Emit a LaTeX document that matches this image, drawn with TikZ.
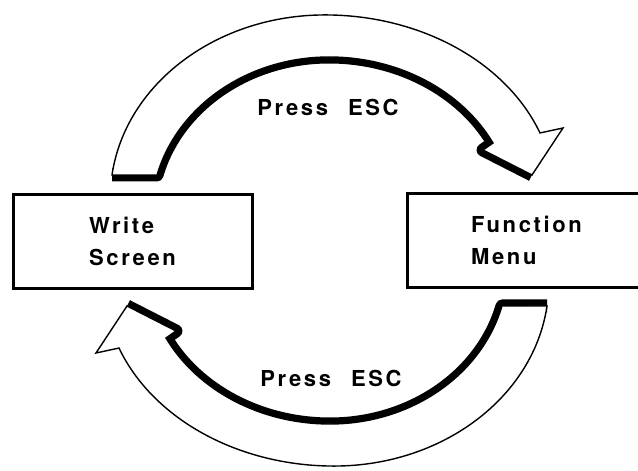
\documentclass[tikz,border=0pt]{standalone}
\usepackage{fontspec}
\newfontfamily\labelfont{TeX Gyre Heros}[LetterSpace=12]
\tikzset{
  boxnode/.style={draw, line width=3pt, minimum width=239pt, minimum height=94pt,
    align=left, inner sep=0pt, font=\labelfont\bfseries\fontsize{22}{32}\selectfont},
  presslabel/.style={inner sep=0pt, font=\labelfont\bfseries\fontsize{22}{26}\selectfont},
  arrowbody/.style={draw, fill=white, line width=1.4pt, line join=miter},
  arrowshadow/.style={draw, line width=13pt, line join=round},
  % curved block arrow with a heavy shadow along its inner edge
  escarrow/.pic={
    \draw[arrowshadow] (112,296) -- (157,296)
      arc[start angle=165.33, end angle=90, x radius=177.8pt, y radius=158pt]
      arc[start angle=90, end angle=27.11, x radius=184.2pt, y radius=158pt]
      -- (483,321) -- (532,296);
    \draw[arrowbody] (112,296)
      arc[start angle=172.8, end angle=90, x radius=214.7pt, y radius=183pt]
      arc[start angle=90, end angle=20.8, x radius=230pt, y radius=183pt]
      -- (563,343) -- (532,296) -- (483,321) -- (493,328)
      arc[start angle=27.11, end angle=90, x radius=184.2pt, y radius=158pt]
      arc[start angle=90, end angle=165.33, x radius=177.8pt, y radius=158pt]
      -- cycle;
  }
}
\begin{document}
\begin{tikzpicture}[x=1pt,y=1pt]
  \clip (0,0) rectangle (638,471);
  \fill[white] (0,0) rectangle (638,471);

  % the two screens
  \node[boxnode] (write) at (132.5,229.5) {Write\\Screen};
  \node[boxnode] (menu) at (526.5,230.5) {Function\\Menu};

  % upper arrow: Write Screen -> Function Menu
  \pic at (0,0) {escarrow};
  % lower arrow: the same shape turned half a circle
  \pic[rotate=180] at (659,461) {escarrow};

  \node[presslabel] (esctop) at (328,364) {Press\hspace{20pt}ESC};
  \node[presslabel] (escbot) at (331,93) {Press\hspace{20pt}ESC};
\end{tikzpicture}
\end{document}
